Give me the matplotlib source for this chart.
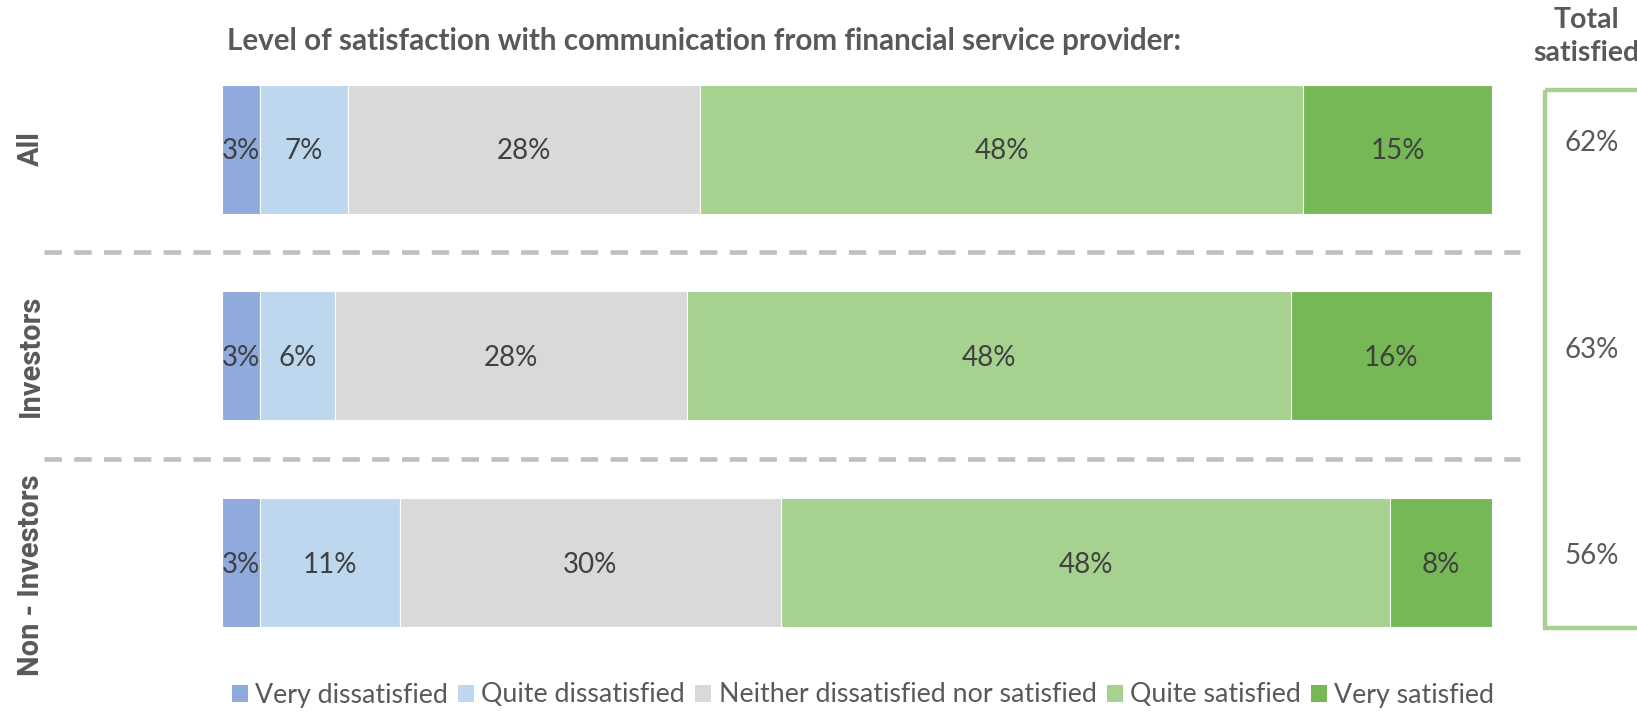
import numpy as np
import matplotlib.pyplot as plt
from matplotlib.patches import Rectangle

# --- Survey data ---
GROUPS = ["All", "Investors", "Non - Investors"]
LEVELS = ["Very dissatisfied", "Quite dissatisfied",
          "Neither dissatisfied nor satisfied", "Quite satisfied", "Very satisfied"]
ALL_PCT = [3, 7, 28, 48, 15]
INVESTORS_PCT = [3, 6, 28, 48, 16]
NON_INVESTORS_PCT = [3, 11, 30, 48, 8]
TOTAL_SATISFIED = [62, 63, 56]

COLORS = ["#8FAADC", "#BDD7EE", "#D9D9D9", "#A6D18F", "#75B855"]
TEXT_DARK = "#404040"
TEXT_GREY = "#595959"

W_PX, H_PX = 1637, 712
ROW_STEP = 206.75           # px between bar centres
ROW0 = 149.0                # px from top to first bar centre

fig = plt.figure(figsize=(W_PX / 100, H_PX / 100), dpi=100)
left, right = 222, 1492
ax = fig.add_axes([left / W_PX, 0, (right - left) / W_PX, 1])
ax.set_xlim(0, 100)
ax.set_ylim((H_PX - ROW0) / ROW_STEP, -ROW0 / ROW_STEP)
ax.axis("off")

rows = [ALL_PCT, INVESTORS_PCT, NON_INVESTORS_PCT]
bar_h = 129 / ROW_STEP

for i, vals in enumerate(rows):
    vals = np.array(vals, dtype=float)
    widths = vals / vals.sum() * 100   # 100% stacked
    starts = np.concatenate([[0], np.cumsum(widths)[:-1]])
    for j, (s, w) in enumerate(zip(starts, widths)):
        ax.barh(i, w, left=s, height=bar_h, color=COLORS[j],
                edgecolor="white", linewidth=0.8,
                label=LEVELS[j] if i == 0 else None)
        ax.text(s + w / 2, i + 0.01, f"{int(vals[j])}%", ha="center", va="center",
                fontsize=20, family="Lato", color=TEXT_DARK, clip_on=True)

# group labels on the left (long one sits a bit lower)
label_shift = [0, 0, 0.06]
for i, g in enumerate(GROUPS):
    ax.text((31 - left) / (right - left), i + label_shift[i], g, rotation=90,
            ha="center", va="center",
            fontsize=21, family="Roboto", fontweight="bold", color=TEXT_GREY,
            transform=ax.get_yaxis_transform(), clip_on=False)

# dashed separators between groups
x0 = (44 - left) / (right - left)
x1 = (1520 - left) / (right - left)
for y in [0.5, 1.5]:
    ax.plot([x0, x1], [y, y], transform=ax.get_yaxis_transform(), color="#BFBFBF",
            linewidth=3.3, linestyle=(0, (3.8, 2.7)), clip_on=False)

# title
ax.text((227 - left) / (right - left), (50 - ROW0) / ROW_STEP,
        "Level of satisfaction with communication from financial service provider:",
        ha="left", va="baseline", fontsize=21.3, family="Lato", fontweight="bold",
        color=TEXT_GREY, transform=ax.get_yaxis_transform(), clip_on=False)

# total satisfied box
bx = (1545 - left) / (right - left)
by0 = (90 - ROW0) / ROW_STEP
by1 = (628 - ROW0) / ROW_STEP
ax.add_patch(Rectangle((bx, by0), 0.3, by1 - by0, transform=ax.get_yaxis_transform(),
                       fill=False, edgecolor="#A6D18F", linewidth=3.2, clip_on=False))
for i, t in enumerate(TOTAL_SATISFIED):
    ax.text((1592 - left) / (right - left), i - 0.03, f"{t}%", ha="center", va="center",
            fontsize=20, family="Lato", color=TEXT_GREY,
            transform=ax.get_yaxis_transform(), clip_on=False)

fig.text(1586 / W_PX, 1 - 28 / H_PX, "Total", ha="center", va="baseline",
         fontsize=20.5, family="Lato", fontweight="bold", color=TEXT_GREY)
fig.text(1586 / W_PX, 1 - 61 / H_PX, "satisfied", ha="center", va="baseline",
         fontsize=20.5, family="Lato", fontweight="bold", color=TEXT_GREY)

# legend along the bottom
handles, labels = ax.get_legend_handles_labels()
leg = fig.legend(handles, labels, loc="center", ncol=5,
                 bbox_to_anchor=(863 / W_PX, 1 - 695 / H_PX),
                 frameon=False, prop={"family": "Lato", "size": 19.3},
                 handlelength=0.6, handleheight=0.6, handletextpad=0.27,
                 columnspacing=0.38, borderpad=0, borderaxespad=0)
for t in leg.get_texts():
    t.set_color(TEXT_GREY)
for h in leg.legend_handles:
    h.set_edgecolor("none")

fig.savefig("out.png", dpi=100)
